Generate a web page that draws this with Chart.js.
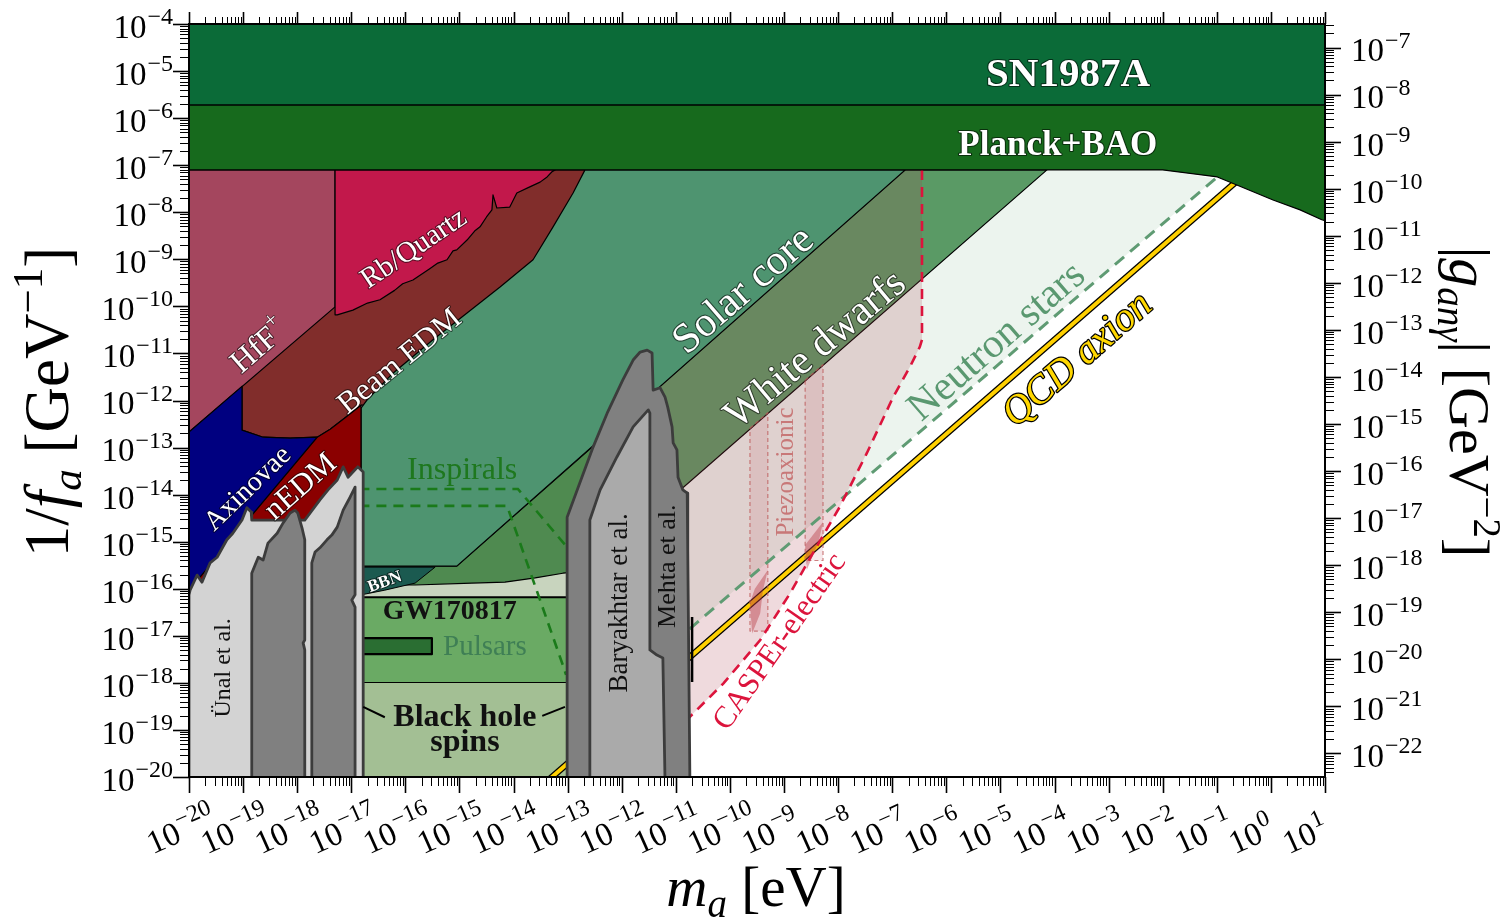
<!DOCTYPE html>
<html>
<head>
<meta charset="utf-8">
<script src="https://cdn.jsdelivr.net/npm/chart.js@4.4.0/dist/chart.umd.min.js"></script>
<style>
  html, body { margin: 0; padding: 0; background: #fff; }
  canvas { display: block; }
</style>
</head>
<body>
<canvas id="grafico" width="1506" height="921"></canvas>
<script>
// Datos: pares [log10 m_a (eV), log10 1/f_a (GeV^-1)]

// Rango de los ejes (exponentes)
const rangoX = [-20, 1];
const rangoY = [-20, -4];
const rangoY2 = [-22.5, -6.5];

// Etiquetas de las marcas (exponentes de 10)
const decadasX = [-20, -19, -18, -17, -16, -15, -14, -13, -12, -11, -10, -9, -8, -7, -6, -5, -4, -3, -2, -1, 0, 1];
const decadasY = [-20, -19, -18, -17, -16, -15, -14, -13, -12, -11, -10, -9, -8, -7, -6, -5, -4];
const decadasY2 = [-22, -21, -20, -19, -18, -17, -16, -15, -14, -13, -12, -11, -10, -9, -8, -7];

// Regiones
const sn1987a = [[-20, -4], [1, -4], [1, -5.72], [-20, -5.72]];
const planckBao = [[-20, -5.72], [1, -5.72], [1, -8.18], [0.94, -8.16], [0.54, -7.95], [0.04, -7.74],
  [-0.63, -7.42], [-0.99, -7.25], [-2.0, -7.10], [-20, -7.10]];
const hff = [[-20, -7.10], [-17.30, -7.10], [-17.30, -10.01], [-20, -12.67]];
const rbQuartz = [[-17.30, -7.10], [-13.23, -7.10], [-13.29, -7.14], [-13.38, -7.25], [-13.51, -7.36],
  [-13.70, -7.46], [-13.94, -7.59], [-14.07, -7.89], [-14.31, -7.91], [-14.38, -7.63], [-14.40, -7.95],
  [-14.50, -8.10], [-14.62, -8.31], [-14.72, -8.40], [-14.86, -8.59], [-15.05, -8.80], [-15.12, -8.82],
  [-15.23, -9.01], [-15.40, -9.08], [-15.55, -9.20], [-15.86, -9.44], [-16.05, -9.52], [-16.20, -9.66],
  [-16.47, -9.86], [-16.70, -9.93], [-16.97, -10.08], [-17.26, -10.18], [-17.30, -10.18]];
const beamEdm = [[-19.02, -7.10], [-12.40, -7.10], [-12.40, -12.10], [-16.82, -12.10], [-17.12, -12.37],
  [-17.39, -12.61], [-17.63, -12.78], [-18.13, -12.80], [-18.63, -12.78], [-19.02, -12.63]];
const solarCore = [[-16.82, -12.16], [-16.71, -11.99], [-16.23, -11.42], [-15.49, -10.71], [-14.86, -10.14],
  [-14.25, -9.59], [-13.64, -9.01], [-13.27, -8.31], [-12.90, -7.59], [-12.68, -7.10], [-6.76, -7.10],
  [-15.05, -15.52], [-16.82, -15.52]];
const whiteDwarfs = [[-6.76, -7.10], [-4.14, -7.10], [-12.40, -15.39], [-13.14, -15.39], [-15.05, -15.52]];
const wdBajo = [[-16.82, -15.52], [-15.05, -15.52], [-12.40, -12.84], [-12.40, -15.60], [-13.09, -15.67],
  [-13.60, -15.77], [-14.16, -15.86], [-14.77, -15.88], [-15.82, -15.92], [-16.82, -15.92]];
const neutronStars = [[-4.14, -7.10], [-2.0, -7.10], [-1.03, -7.29], [-10.70, -16.81], [-12.40, -18.48], [-12.40, -15.39]];
const franjaPalida = [[-16.82, -15.50], [-12.40, -15.50], [-12.40, -16.18], [-16.82, -16.18]];
const gw170817 = [[-16.82, -16.18], [-12.40, -16.18], [-12.40, -18.00], [-16.82, -18.00]];
const bhSpins = [[-16.82, -18.00], [-12.40, -18.00], [-12.40, -20.10], [-16.82, -20.10]];
const bbn = [[-16.82, -15.54], [-15.45, -15.54], [-15.82, -15.88], [-16.38, -16.03], [-16.82, -16.13]];
const pulsars = [[-16.82, -17.05], [-15.51, -17.05], [-15.51, -17.39], [-16.82, -17.39]];
const nedm = [[-17.63, -12.78], [-17.39, -12.61], [-17.12, -12.37], [-16.82, -12.10], [-16.82, -16.50],
  [-20, -16.50], [-20, -16.03]];
const axinovae = [[-20, -12.67], [-19.02, -11.70], [-19.02, -12.63], [-18.63, -12.78], [-18.13, -12.80],
  [-17.63, -12.78], [-20, -16.03]];
const casperZona = [[-6.45, -7.10], [-6.45, -10.71], [-6.49, -10.86], [-6.67, -11.28], [-6.98, -11.92],
  [-7.47, -13.12], [-7.97, -14.26], [-8.40, -15.11], [-8.89, -16.10], [-9.44, -17.09], [-10.12, -18.01],
  [-10.74, -18.72], [-12.40, -20.63], [-12.40, -7.10]];
const piezo1 = [[-9.63, -12.59], [-9.30, -12.26], [-9.30, -16.90], [-9.63, -16.90]];
const piezo2 = [[-8.61, -11.57], [-8.28, -11.24], [-8.28, -15.40], [-8.61, -15.40]];
const piezoMancha1 = [[-9.30, -15.60], [-9.39, -16.03], [-9.44, -16.52], [-9.59, -16.95], [-9.63, -16.30], [-9.54, -16.00]];
const piezoMancha2 = [[-8.28, -14.58], [-8.36, -15.00], [-8.58, -15.60], [-8.61, -15.07]];

// Líneas
const qcdAxion = [[-13.60, -20.31], [0, -6.71]];
const lineaNS = [[-1.03, -7.29], [-10.70, -16.81], [-12.40, -18.48]];
const lineaCasper = [[-6.45, -7.10], [-6.45, -10.71], [-6.49, -10.86], [-6.67, -11.28], [-6.98, -11.92],
  [-7.47, -13.12], [-7.97, -14.26], [-8.40, -15.11], [-8.89, -16.10], [-9.44, -17.09], [-10.12, -18.01],
  [-10.74, -18.72], [-11.20, -19.25]];
const inspiralsSup = [[-16.85, -13.88], [-13.92, -13.88], [-13.09, -15.01], [-12.96, -15.18]];
const inspiralsInf = [[-16.85, -14.24], [-14.12, -14.24], [-13.09, -17.62], [-13.03, -17.83]];
const segmentoMehta = [[-10.70, -16.60], [-10.70, -17.98]];
const flechaIzq = [[-16.78, -18.51], [-16.38, -18.73]];
const flechaDer = [[-13.05, -18.51], [-13.47, -18.70]];

// Superradiancia (grises)
const unalClaro = [[-20, -16.13], [-19.98, -16.03], [-19.85, -15.71], [-19.76, -15.86], [-19.61, -15.45],
  [-19.48, -15.33], [-19.30, -14.96], [-19.19, -14.82], [-19.02, -14.54], [-18.93, -14.28], [-18.85, -14.37],
  [-18.84, -14.54], [-17.86, -14.54], [-17.76, -14.39], [-17.58, -14.11], [-17.43, -13.90], [-17.26, -13.69],
  [-17.15, -13.41], [-17.06, -13.63], [-16.97, -13.52], [-16.88, -13.41], [-16.78, -13.52], [-16.78, -20.10],
  [-20, -20.10]];
const unalOscuro1 = [[-18.84, -20.10], [-18.84, -15.67], [-18.72, -15.33], [-18.63, -15.39], [-18.54, -15.03],
  [-18.37, -14.82], [-18.26, -14.60], [-18.13, -14.39], [-18.04, -14.33], [-17.99, -14.39], [-17.91, -14.71],
  [-17.86, -14.96], [-17.86, -17.09], [-17.89, -17.15], [-17.86, -17.30], [-17.86, -20.10]];
const unalOscuro2 = [[-17.73, -20.10], [-17.73, -15.45], [-17.67, -15.22], [-17.58, -15.13], [-17.45, -14.96],
  [-17.36, -14.86], [-17.26, -14.69], [-17.15, -14.33], [-17.02, -14.05], [-16.93, -13.84], [-16.93, -16.13],
  [-16.99, -16.24], [-16.93, -16.39], [-16.93, -20.10]];
const mehta = [[-13.01, -20.10], [-13.01, -14.48], [-12.53, -12.99], [-12.27, -12.27], [-11.98, -11.56],
  [-11.79, -11.14], [-11.66, -10.97], [-11.53, -10.93], [-11.44, -10.99], [-11.42, -11.78], [-11.29, -11.73],
  [-11.20, -11.93], [-11.15, -12.14], [-11.07, -12.56], [-11.05, -12.90], [-10.98, -13.05], [-10.96, -13.63],
  [-10.87, -13.90], [-10.79, -13.97], [-10.78, -15.18], [-10.74, -20.10]];
const baryakhtar = [[-12.59, -20.10], [-12.59, -14.54], [-12.40, -13.90], [-12.09, -13.20], [-11.79, -12.56],
  [-11.51, -12.20], [-11.48, -12.27], [-11.48, -17.30], [-11.35, -17.41], [-11.24, -17.47], [-11.20, -20.10]];

// Utilidades
const puntos = (arr) => arr.map(([a, b]) => ({ x: 10 ** a, y: 10 ** b }));

const region = (datos, relleno, borde = "#000", ancho = 1.2) => ({
  data: puntos([...datos, datos[0]]),
  fill: "shape",
  backgroundColor: relleno,
  borderColor: borde,
  borderWidth: ancho,
  borderJoinStyle: "round",
  pointRadius: 0,
  tension: 0,
});

const linea = (datos, color, ancho, guiones = []) => ({
  data: puntos(datos),
  fill: false,
  borderColor: color,
  borderWidth: ancho,
  borderDash: guiones,
  borderCapStyle: "butt",
  pointRadius: 0,
  tension: 0,
});

const sinBorde = "rgba(0,0,0,0)";
const gris = "#3c3c3c";

// Capas de abajo hacia arriba
const capas = [
  region(neutronStars, "#ecf4ee", sinBorde, 1),
  region(whiteDwarfs, "#5a9a65"),
  region(casperZona, "rgba(170,60,75,0.19)", sinBorde, 1),
  region(beamEdm, "#812d2b"),
  region(hff, "#a4465e"),
  region(rbQuartz, "#c2184b"),
  region(franjaPalida, "#c8d4be", sinBorde, 1),
  region(gw170817, "#6aaa64", "#000", 2),
  region(bhSpins, "#a3bf94", sinBorde, 1),
  region(wdBajo, "#4f8a50"),
  region(solarCore, "#4e9470"),
  region(bbn, "#1b5a50", "#000", 1),
  region(pulsars, "#2a6e32", "#000", 2.2),
  region(nedm, "#8b0000"),
  region(axinovae, "#000080"),
  linea(qcdAxion, "#000", 6.5),
  linea(qcdAxion, "#ffd000", 4),
  { ...region(piezo1, "rgba(190,80,90,0.13)", "rgba(190,90,90,0.75)", 1.2), borderDash: [4, 3] },
  { ...region(piezo2, "rgba(190,80,90,0.13)", "rgba(190,90,90,0.75)", 1.2), borderDash: [4, 3] },
  region(piezoMancha1, "rgba(180,50,60,0.4)", sinBorde, 1),
  region(piezoMancha2, "rgba(180,50,60,0.4)", sinBorde, 1),
  linea(inspiralsSup, "#1a7a1a", 2.6, [10, 7]),
  linea(inspiralsInf, "#1a7a1a", 2.6, [10, 7]),
  linea(lineaNS, "#5f9b73", 3, [12, 8]),
  linea(lineaCasper, "#dc143c", 2.6, [10, 7]),
  region(unalClaro, "#d3d3d3", gris, 2.8),
  region(unalOscuro1, "#808080", gris, 2.8),
  region(unalOscuro2, "#808080", gris, 2.8),
  region(mehta, "#808080", gris, 2.8),
  region(baryakhtar, "#aaaaaa", gris, 2.8),
  linea(segmentoMehta, "#000", 2.5),
  region(planckBao, "#176a1d"),
  region(sn1987a, "#0b6b38"),
  linea(flechaIzq, "#000", 2),
  linea(flechaDer, "#000", 2),
];
capas.forEach((c, i) => { c.order = capas.length - i; });

// Textos de las regiones (posición en exponentes)
const serif = '"Liberation Serif"';
const etiquetas = [
  { texto: "SN1987A", m: -3.75, f: -5.10, ang: 0, fuente: `bold 41px ${serif}`, color: "#fff", contorno: true },
  { texto: "Planck+BAO", m: -3.94, f: -6.59, ang: 0, fuente: `bold 35px ${serif}`, color: "#fff", contorno: true },
  { texto: "HfF", sup: "+", m: -18.69, f: -10.86, ang: 41, fuente: `32px ${serif}`, color: "#fff", contorno: true },
  { texto: "Rb/Quartz", m: -15.84, f: -8.78, ang: 34, fuente: `29px ${serif}`, color: "#fff", contorno: true },
  { texto: "Beam EDM", m: -16.10, f: -11.18, ang: 39, fuente: `31px ${serif}`, color: "#fff", contorno: true },
  { texto: "Axinovae", m: -18.91, f: -13.88, ang: 44, fuente: `28px ${serif}`, color: "#fff", contorno: true },
  { texto: "nEDM", m: -17.93, f: -13.84, ang: 41, fuente: `31px ${serif}`, color: "#fff", contorno: true },
  { texto: "Solar core", m: -9.74, f: -9.67, ang: 41, fuente: `42px ${serif}`, color: "#fff", contorno: true },
  { texto: "White dwarfs", m: -8.41, f: -10.93, ang: 40, fuente: `41px ${serif}`, color: "#fff", contorno: true },
  { texto: "Neutron stars", m: -5.06, f: -10.76, ang: 41, fuente: `41px ${serif}`, color: "#5a9870" },
  { texto: "QCD axion", m: -3.57, f: -11.14, ang: 41, fuente: `italic 40px ${serif}`, color: "#ffd700", trazo: "#000" },
  { texto: "CASPEr-electric", m: -9.07, f: -17.13, ang: 55, fuente: `31px ${serif}`, color: "#dc143c" },
  { texto: "Piezoaxionic", m: -8.96, f: -13.52, ang: 90, fuente: `25px ${serif}`, color: "#c87878" },
  { texto: "Inspirals", m: -14.95, f: -13.48, ang: 0, fuente: `32px ${serif}`, color: "#1e781e" },
  { texto: "GW170817", m: -15.18, f: -16.49, ang: 0, fuente: `bold 28px ${serif}`, color: "#111" },
  { texto: "Pulsars", m: -14.53, f: -17.24, ang: 0, fuente: `29px ${serif}`, color: "#3f7f55" },
  { texto: "Black hole", m: -14.90, f: -18.75, ang: 0, fuente: `bold 32px ${serif}`, color: "#111" },
  { texto: "spins", m: -14.90, f: -19.28, ang: 0, fuente: `bold 32px ${serif}`, color: "#111" },
  { texto: "BBN", m: -16.38, f: -15.86, ang: 20, fuente: `bold 17px ${serif}`, color: "#fff", contorno: true },
  { texto: "Ünal et al.", m: -19.35, f: -17.68, ang: 90, fuente: `24px ${serif}`, color: "#111" },
  { texto: "Baryakhtar et al.", m: -12.03, f: -16.30, ang: 90, fuente: `27px ${serif}`, color: "#111" },
  { texto: "Mehta et al.", m: -11.15, f: -15.52, ang: 90, fuente: `26px ${serif}`, color: "#111" },
];

// Dibuja 10^exp
const dibujarPotencia = (ctx, exp, x, y, alineacion, tam) => {
  const base = "10";
  const sup = exp < 0 ? "\u2212" + Math.abs(exp) : String(exp);
  const fBase = `${tam}px ${serif}`;
  const fSup = `${Math.round(tam * 0.72)}px ${serif}`;
  ctx.font = fBase;
  const wb = ctx.measureText(base).width;
  ctx.font = fSup;
  const ws = ctx.measureText(sup).width;
  const total = wb + 1 + ws;
  let x0 = x;
  if (alineacion === "right") x0 = x - total;
  if (alineacion === "base") x0 = x - wb;
  ctx.textAlign = "left";
  ctx.textBaseline = "alphabetic";
  ctx.font = fBase;
  ctx.fillText(base, x0, y);
  ctx.font = fSup;
  ctx.fillText(sup, x0 + wb + 1, y - tam * 0.42);
};

// Texto con partes en cursiva, subíndice o superíndice
const dibujarRico = (ctx, partes, x, y, tam) => {
  const fuentes = partes.map((p) => {
    const t = p.pos ? Math.round(tam * 0.68) : tam;
    return `${p.it ? "italic " : ""}${t}px ${serif}`;
  });
  const anchos = partes.map((p, i) => { ctx.font = fuentes[i]; return ctx.measureText(p.t).width; });
  let cx = x - anchos.reduce((s, w) => s + w, 0) / 2;
  ctx.textAlign = "left";
  ctx.textBaseline = "alphabetic";
  partes.forEach((p, i) => {
    ctx.font = fuentes[i];
    const dy = p.pos === "sub" ? tam * 0.2 : p.pos === "sup" ? -tam * 0.42 : 0;
    ctx.fillText(p.t, cx, y + dy);
    cx += anchos[i];
  });
};

const ejes = {
  id: "ejes",
  afterDraw(chart) {
    const { ctx, chartArea: a, scales } = chart;
    const sx = scales.x, sy = scales.y, sy2 = scales.y2;
    ctx.save();
    ctx.fillStyle = "#000";
    ctx.strokeStyle = "#000";

    // Marco
    ctx.lineWidth = 2;
    ctx.strokeRect(a.left, a.top, a.right - a.left, a.bottom - a.top);

    // Marcas menores y mayores
    const marcas = (rango) => {
      const lista = [];
      for (let e = Math.floor(rango[0]); e <= Math.ceil(rango[1]); e++) {
        for (let k = 1; k <= 9; k++) {
          const v = Math.log10(k) + e;
          if (v >= rango[0] - 1e-9 && v <= rango[1] + 1e-9) lista.push({ v, mayor: k === 1 });
        }
      }
      return lista;
    };
    marcas(rangoX).forEach(({ v, mayor }) => {
      const px = Math.round(sx.getPixelForValue(10 ** v)) + 0.5;
      ctx.lineWidth = mayor ? 1.6 : 1;
      ctx.beginPath();
      ctx.moveTo(px, a.bottom); ctx.lineTo(px, a.bottom + (mayor ? 16 : 9));
      ctx.moveTo(px, a.top); ctx.lineTo(px, a.top - (mayor ? 12 : 7));
      ctx.stroke();
    });
    marcas(rangoY).forEach(({ v, mayor }) => {
      const py = Math.round(sy.getPixelForValue(10 ** v)) + 0.5;
      ctx.lineWidth = mayor ? 1.6 : 1;
      ctx.beginPath();
      ctx.moveTo(a.left, py); ctx.lineTo(a.left - (mayor ? 16 : 9), py);
      ctx.stroke();
    });
    marcas(rangoY2).forEach(({ v, mayor }) => {
      const py = Math.round(sy2.getPixelForValue(10 ** v)) + 0.5;
      ctx.lineWidth = mayor ? 1.6 : 1;
      ctx.beginPath();
      ctx.moveTo(a.right, py); ctx.lineTo(a.right + (mayor ? 16 : 9), py);
      ctx.stroke();
    });

    // Etiquetas de las marcas
    const tam = 33;
    decadasY.forEach((e) => {
      const py = sy.getPixelForValue(10 ** e);
      dibujarPotencia(ctx, e, a.left - 16, py + tam * 0.33 + 3, "right", tam);
    });
    decadasY2.forEach((e) => {
      const py = sy2.getPixelForValue(10 ** e);
      dibujarPotencia(ctx, e, a.right + 26, py + tam * 0.33 + 3, "left", tam);
    });
    decadasX.forEach((e) => {
      const px = sx.getPixelForValue(10 ** e);
      ctx.save();
      ctx.translate(px - 6, a.bottom + 64);
      ctx.rotate(-24 * Math.PI / 180);
      dibujarPotencia(ctx, e, 0, 0, "base", tam);
      ctx.restore();
    });

    // Títulos de los ejes
    ctx.save();
    ctx.translate(68, 402);
    ctx.rotate(-Math.PI / 2);
    dibujarRico(ctx, [{ t: "1/" }, { t: "f", it: true }, { t: "a", it: true, pos: "sub" }, { t: " [GeV" },
      { t: "\u22121", pos: "sup" }, { t: "]" }], 0, 0, 63);
    ctx.restore();

    ctx.save();
    ctx.translate(1450, 402);
    ctx.rotate(Math.PI / 2);
    dibujarRico(ctx, [{ t: "|" }, { t: "g", it: true }, { t: "an\u03b3", it: true, pos: "sub" }, { t: "| [GeV" },
      { t: "\u22122", pos: "sup" }, { t: "]" }], 0, 0, 58);
    ctx.restore();

    dibujarRico(ctx, [{ t: "m", it: true }, { t: "a", it: true, pos: "sub" }, { t: " [eV]" }], 756, 906, 57);

    // Textos de las regiones
    etiquetas.forEach((et) => {
      const px = sx.getPixelForValue(10 ** et.m);
      const py = sy.getPixelForValue(10 ** et.f);
      ctx.save();
      ctx.translate(px, py);
      ctx.rotate(-et.ang * Math.PI / 180);
      ctx.font = et.fuente;
      ctx.textBaseline = "middle";
      ctx.textAlign = "left";
      const w = ctx.measureText(et.texto).width;
      let wSup = 0;
      const fSup = et.fuente.replace(/(\d+)px/, (s, n) => Math.round(n * 0.7) + "px");
      if (et.sup) { ctx.font = fSup; wSup = ctx.measureText(et.sup).width; ctx.font = et.fuente; }
      const x0 = -(w + wSup) / 2;
      ctx.lineJoin = "round";
      if (et.contorno) {
        ctx.strokeStyle = "rgba(0,0,0,0.55)";
        ctx.lineWidth = 2.2;
        ctx.strokeText(et.texto, x0, 0);
      }
      if (et.trazo) {
        ctx.strokeStyle = et.trazo;
        ctx.lineWidth = 2.5;
        ctx.strokeText(et.texto, x0, 0);
      }
      ctx.fillStyle = et.color;
      ctx.fillText(et.texto, x0, 0);
      if (et.sup) {
        ctx.font = fSup;
        ctx.strokeStyle = "rgba(0,0,0,0.55)";
        ctx.lineWidth = 1.5;
        ctx.strokeText(et.sup, x0 + w, -12);
        ctx.fillText(et.sup, x0 + w, -12);
      }
      ctx.restore();
    });

    ctx.restore();
  },
};

const ctx = document.querySelector("#grafico").getContext("2d");
new Chart(ctx, {
  type: "line",
  data: { datasets: capas },
  options: {
    responsive: false,
    animation: false,
    devicePixelRatio: 1,
    events: [],
    layout: { padding: { left: 189, right: 181, top: 24, bottom: 144 } },
    elements: { point: { radius: 0 } },
    scales: {
      x: { type: "logarithmic", min: 10 ** rangoX[0], max: 10 ** rangoX[1], display: false },
      y: { type: "logarithmic", min: 10 ** rangoY[0], max: 10 ** rangoY[1], display: false },
      y2: { type: "logarithmic", position: "right", min: 10 ** rangoY2[0], max: 10 ** rangoY2[1], display: false },
    },
    plugins: {
      legend: { display: false },
      tooltip: { enabled: false },
    },
  },
  plugins: [ejes],
});
</script>
</body>
</html>
